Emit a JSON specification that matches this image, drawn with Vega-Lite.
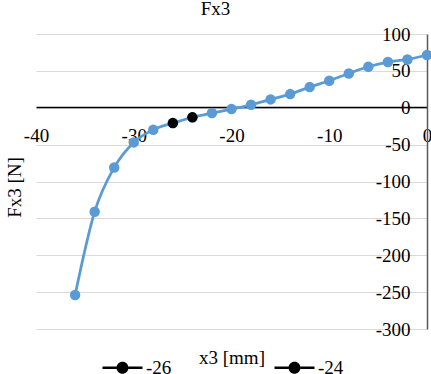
{
  "$schema": "https://vega.github.io/schema/vega-lite/v6.json",
  "width": 391,
  "height": 295,
  "autosize": {"type": "none"},
  "padding": {"left": 36, "top": 34, "right": 4, "bottom": 45},
  "background": "white",
  "config": {"view": {"stroke": null}, "font": "Liberation Serif",
    "axis": {"labelFont": "Times New Roman, Liberation Serif, serif"},
    "legend": {"labelFont": "Times New Roman, Liberation Serif, serif"}},
  "title": {"text": "Fx3", "font": "Liberation Serif", "fontSize": 19, "fontWeight": "normal", "color": "black", "offset": -9, "baseline": "alphabetic", "anchor": "middle", "frame": "group", "dx": -16},
  "data": {"values": [
    {"x": -36, "fx": -254, "series": "main"},
    {"x": -34, "fx": -141, "series": "main"},
    {"x": -32, "fx": -81, "series": "main"},
    {"x": -30, "fx": -47, "series": "main"},
    {"x": -28, "fx": -29.8, "series": "main"},
    {"x": -26, "fx": -20.8, "series": "-26"},
    {"x": -24, "fx": -13, "series": "-24"},
    {"x": -22, "fx": -7.2, "series": "main"},
    {"x": -20, "fx": -1.8, "series": "main"},
    {"x": -18, "fx": 4, "series": "main"},
    {"x": -16, "fx": 11.3, "series": "main"},
    {"x": -14, "fx": 18.5, "series": "main"},
    {"x": -12, "fx": 28, "series": "main"},
    {"x": -10, "fx": 36.6, "series": "main"},
    {"x": -8, "fx": 46.5, "series": "main"},
    {"x": -6, "fx": 55.6, "series": "main"},
    {"x": -4, "fx": 62, "series": "main"},
    {"x": -2, "fx": 65.5, "series": "main"},
    {"x": 0, "fx": 71.5, "series": "main"}
  ]},
  "encoding": {
    "x": {"field": "x", "type": "quantitative", "scale": {"domain": [-40, 0], "nice": false, "zero": false},
      "axis": {"orient": "bottom", "offset": -222, "values": [-40, -30, -20, -10, 0], "grid": false, "ticks": false, "tickSize": 0,
        "domainColor": "black", "domainWidth": 1.3, "labelFontSize": 19, "labelColor": "black",
        "labelPadding": 19, "labelFlush": false, "labelOverlap": false, "labelExpr": "'' + datum.value",
        "title": "x3 [mm]", "titleFontSize": 19, "titleFontWeight": "normal", "titleColor": "black",
        "titleY": 256, "titleBaseline": "alphabetic"}},
    "y": {"field": "fx", "type": "quantitative", "scale": {"domain": [-300, 100], "nice": false, "zero": false},
      "axis": {"orient": "right", "values": [-300, -250, -200, -150, -100, -50, 0, 50, 100], "grid": true, "gridColor": "#d9d9d9", "gridWidth": 1,
        "ticks": false, "tickSize": 0, "domainColor": "#595959", "domainWidth": 1.5,
        "labelAlign": "right", "labelPadding": -17, "labelFontSize": 19, "labelColor": "black",
        "labelFlush": false, "labelOverlap": false, "labelExpr": "'' + datum.value",
        "title": "Fx3 [N]", "titleAngle": -90, "titleX": -413, "titleY": 153, "titleAlign": "center", "titleBaseline": "middle",
        "titleFontSize": 19, "titleFontWeight": "normal", "titleColor": "black"}}
  },
  "layer": [
    {"mark": {"type": "line", "interpolate": "monotone", "color": "#5b9bd5", "strokeWidth": 2.75}},
    {"mark": {"type": "circle", "color": "#5b9bd5", "size": 110, "opacity": 1}},
    {"transform": [{"filter": "datum.series != 'main'"}],
     "mark": {"type": "circle", "size": 110, "opacity": 1},
     "encoding": {
       "fill": {"field": "series", "type": "nominal",
         "scale": {"domain": ["-26", "-24"], "range": ["#000000", "#000000"]},
         "legend": {"title": null, "orient": "none", "legendX": 77, "legendY": 324, "direction": "horizontal", "columns": 2,
           "columnPadding": 102, "padding": 0, "symbolType": "M-2.5,-0.17H-0.75V0.17H-2.5ZM0.75,-0.17H2.5V0.17H0.75ZM-0.75,0A0.75,0.75,0,1,0,0.75,0A0.75,0.75,0,1,0,-0.75,0Z",
           "symbolSize": 256, "symbolStrokeWidth": 0, "symbolOpacity": 1,
           "labelFontSize": 19, "labelColor": "black", "labelOffset": 14,
           "encode": {"symbols": {"update": {"fill": {"value": {"gradient": "linear", "x1": 0, "y1": 0, "x2": 1, "y2": 0,
             "stops": [{"offset": 0, "color": "#5b9bd5"}, {"offset": 0.35, "color": "#5b9bd5"}, {"offset": 0.35, "color": "#000000"}, {"offset": 0.65, "color": "#000000"}, {"offset": 0.65, "color": "#5b9bd5"}, {"offset": 1, "color": "#5b9bd5"}]}},
             "stroke": {"value": "transparent"}}}}}}
     }}
  ]
}
